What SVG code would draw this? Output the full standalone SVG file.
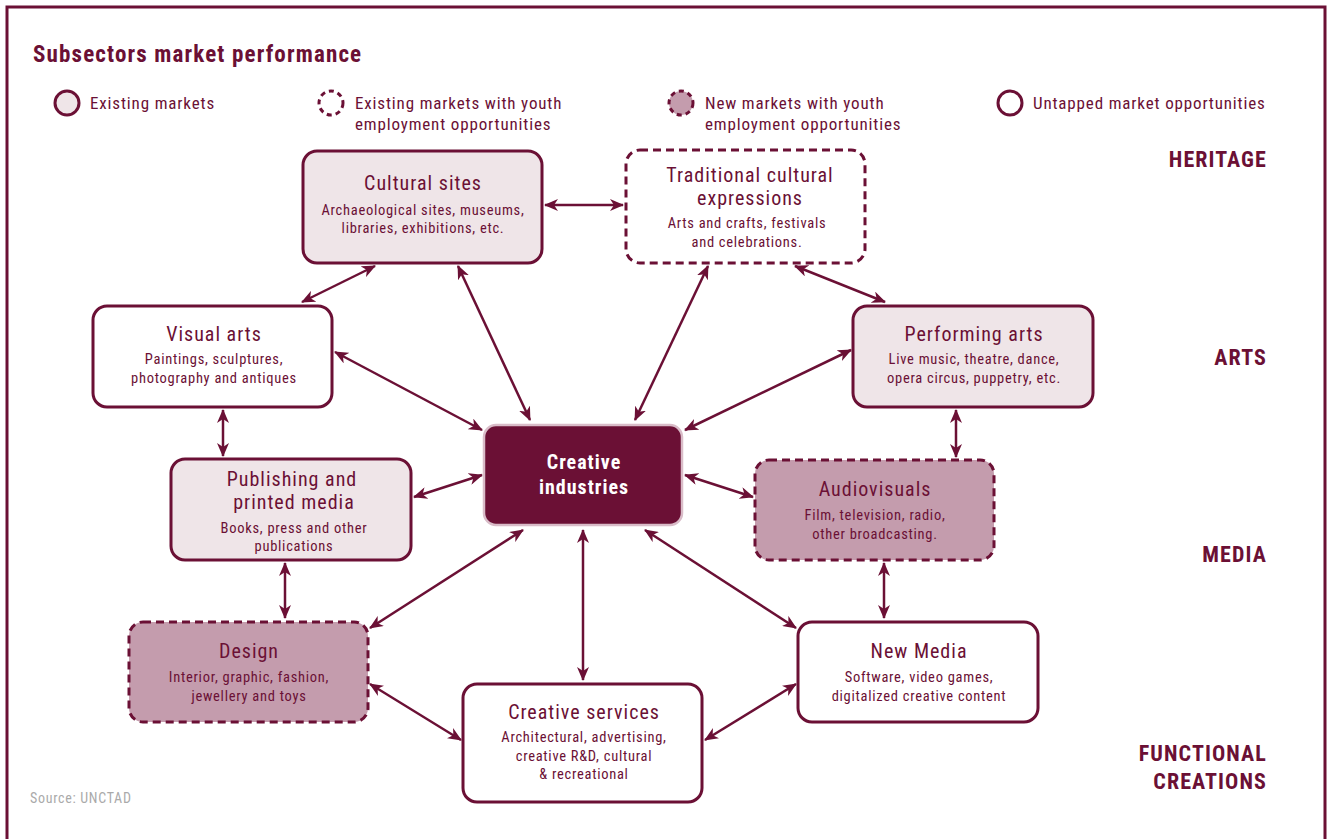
<svg xmlns="http://www.w3.org/2000/svg" width="1330" height="839" viewBox="0 0 1330 839">
<style>
text{font-family:"Liberation Sans Narrow","Roboto Condensed","Liberation Sans",sans-serif;fill:#6b1035;letter-spacing:0.05em}
.t{font-size:20px;text-anchor:middle}
.s{font-size:14.5px;text-anchor:middle}
.lg{font-size:17px}
.side{font-size:22px;font-weight:bold;text-anchor:end}
.box{stroke:#6b1035;stroke-width:3}
.dash{stroke-dasharray:8 5}
.w{fill:#ffffff}
.l{fill:#efe5e8}
.m{fill:#c49cad}
.c{stroke:#6b1035;stroke-width:2.5;fill:none;marker-start:url(#ah);marker-end:url(#ah)}
</style>
<defs>
<marker id="ah" viewBox="0 0 14 12" refX="13" refY="6" markerWidth="14" markerHeight="12" markerUnits="userSpaceOnUse" orient="auto-start-reverse">
<path d="M0,0 L14,6 L0,12 L4,6 z" fill="#6b1035"/>
</marker>
</defs>
<rect width="1330" height="839" fill="#ffffff"/>
<path d="M7,845 V7 H1325 V845" fill="none" stroke="#6b1035" stroke-width="3"/>
<text x="33" y="62" style="font-size:23px;font-weight:bold">Subsectors market performance</text>
<g id="legend">
<circle cx="67" cy="103" r="12" class="box l"/>
<text x="90" y="109" class="lg">Existing markets</text>
<circle cx="331" cy="103" r="12" class="box dash w" style="stroke-dasharray:5 4"/>
<text x="355" y="109" class="lg">Existing markets with youth</text>
<text x="355" y="130" class="lg">employment opportunities</text>
<circle cx="681" cy="103" r="12" class="box m" style="stroke-dasharray:5 4"/>
<text x="705" y="109" class="lg">New markets with youth</text>
<text x="705" y="130" class="lg">employment opportunities</text>
<circle cx="1010" cy="103" r="12" class="box w"/>
<text x="1033" y="109" class="lg">Untapped market opportunities</text>
</g>
<g id="sides">
<text x="1267" y="167" class="side">HERITAGE</text>
<text x="1267" y="365" class="side">ARTS</text>
<text x="1267" y="562" class="side">MEDIA</text>
<text x="1267" y="761" class="side">FUNCTIONAL</text>
<text x="1267" y="789" class="side">CREATIONS</text>
</g>
<g id="connectors">
<line x1="545" y1="205" x2="623" y2="205" class="c"/>
<line x1="375" y1="266" x2="302" y2="302" class="c"/>
<line x1="458" y1="266" x2="530" y2="420" class="c"/>
<line x1="708" y1="266" x2="635" y2="420" class="c"/>
<line x1="795" y1="266" x2="885" y2="302" class="c"/>
<line x1="335" y1="352" x2="482" y2="430" class="c"/>
<line x1="851" y1="350" x2="685" y2="430" class="c"/>
<line x1="223" y1="410" x2="223" y2="456" class="c"/>
<line x1="956" y1="410" x2="956" y2="457" class="c"/>
<line x1="414" y1="497" x2="482" y2="475" class="c"/>
<line x1="685" y1="475" x2="753" y2="497" class="c"/>
<line x1="285" y1="563" x2="285" y2="618" class="c"/>
<line x1="884" y1="563" x2="884" y2="618" class="c"/>
<line x1="523" y1="530" x2="370" y2="628" class="c"/>
<line x1="583" y1="530" x2="583" y2="680" class="c"/>
<line x1="645" y1="530" x2="796" y2="628" class="c"/>
<line x1="370" y1="684" x2="461" y2="740" class="c"/>
<line x1="705" y1="740" x2="796" y2="684" class="c"/>
</g>
<g id="cultural-sites">
<rect x="303" y="151" width="239" height="112" rx="14" class="box l"/>
<text x="423" y="190" class="t">Cultural sites</text>
<text x="423" y="215" class="s">Archaeological sites, museums,</text>
<text x="423" y="233" class="s">libraries, exhibitions, etc.</text>
</g>
<g id="traditional">
<rect x="626" y="150" width="239" height="113" rx="14" class="box w dash"/>
<text x="750" y="182" class="t">Traditional cultural</text>
<text x="750" y="205" class="t">expressions</text>
<text x="747" y="228" class="s">Arts and crafts, festivals</text>
<text x="747" y="247" class="s">and celebrations.</text>
</g>
<g id="visual-arts">
<rect x="93" y="306" width="239" height="101" rx="14" class="box w"/>
<text x="214" y="341" class="t">Visual arts</text>
<text x="214" y="364" class="s">Paintings, sculptures,</text>
<text x="214" y="383" class="s">photography and antiques</text>
</g>
<g id="performing-arts">
<rect x="853" y="306" width="240" height="101" rx="14" class="box l"/>
<text x="974" y="341" class="t">Performing arts</text>
<text x="974" y="364" class="s">Live music, theatre, dance,</text>
<text x="974" y="383" class="s">opera circus, puppetry, etc.</text>
</g>
<g id="creative-industries">
<rect x="484" y="425" width="198" height="100" rx="12" fill="#6b1035" stroke="#d9bcc8" stroke-width="2.5"/>
<text x="584" y="469" class="t" style="fill:#ffffff;font-weight:bold">Creative</text>
<text x="584" y="494" class="t" style="fill:#ffffff;font-weight:bold">industries</text>
</g>
<g id="publishing">
<rect x="171" y="459" width="240" height="101" rx="14" class="box l"/>
<text x="292" y="486" class="t">Publishing and</text>
<text x="294" y="509" class="t">printed media</text>
<text x="294" y="533" class="s">Books, press and other</text>
<text x="294" y="551" class="s">publications</text>
</g>
<g id="audiovisuals">
<rect x="755" y="460" width="239" height="100" rx="14" class="box m dash"/>
<text x="875" y="496" class="t">Audiovisuals</text>
<text x="875" y="520" class="s">Film, television, radio,</text>
<text x="875" y="539" class="s">other broadcasting.</text>
</g>
<g id="design">
<rect x="129" y="622" width="239" height="100" rx="14" class="box m dash"/>
<text x="249" y="658" class="t">Design</text>
<text x="249" y="682" class="s">Interior, graphic, fashion,</text>
<text x="249" y="701" class="s">jewellery and toys</text>
</g>
<g id="new-media">
<rect x="798" y="622" width="240" height="100" rx="14" class="box w"/>
<text x="919" y="658" class="t">New Media</text>
<text x="919" y="682" class="s">Software, video games,</text>
<text x="919" y="701" class="s">digitalized creative content</text>
</g>
<g id="creative-services">
<rect x="463" y="684" width="239" height="118" rx="14" class="box w"/>
<text x="584" y="719" class="t">Creative services</text>
<text x="584" y="742" class="s">Architectural, advertising,</text>
<text x="584" y="761" class="s">creative R&amp;D, cultural</text>
<text x="584" y="779" class="s">&amp; recreational</text>
</g>
<text x="30" y="803" style="font-size:14px;fill:#aaaaaa">Source: UNCTAD</text>
</svg>
